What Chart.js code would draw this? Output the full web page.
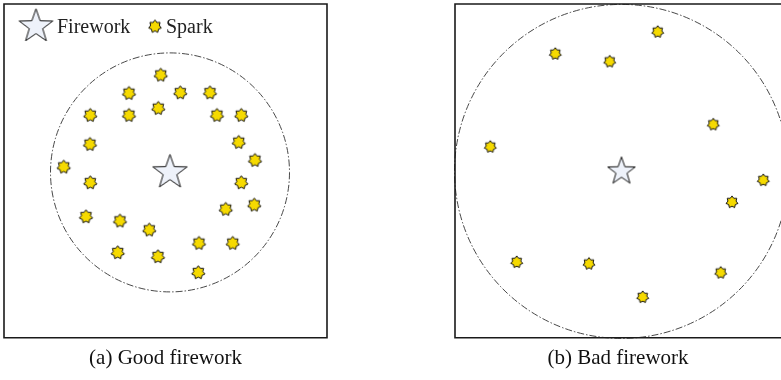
<!DOCTYPE html>
<html>
<head>
<meta charset="utf-8">
<script src="https://cdn.jsdelivr.net/npm/chart.js@4/dist/chart.umd.min.js"></script>
<style>
  html, body { margin: 0; padding: 0; background: #ffffff; overflow: hidden; }
  #wrap { position: relative; width: 781px; height: 380px; overflow: hidden; }
  canvas { position: absolute; top: 0; }
  #good { left: 0px; }
  #bad { left: 450px; }
</style>
</head>
<body>
<div id="wrap">
<canvas id="good" width="340" height="380"></canvas>
<canvas id="bad" width="331" height="380"></canvas>
</div>
<script>
// ---- data (units: firework at origin) ----
const legendLabels = ['Firework', 'Spark'];
const captions = ['(a) Good firework', '(b) Bad firework'];
const fireworkX = [0];
const fireworkY = [0];
const goodSparkX = [-0.93, -4.10, 1.03, 4.00, -7.97, -4.10, -1.17, 4.70, 7.13, -8.00, 6.87, -10.63, 8.50, -7.97, 7.13, 8.43, 5.57, -8.40, -5.00, -2.07, 2.90, 6.27, -5.23, -1.20, 2.83];
const goodSparkY = [9.75, 7.92, 7.98, 7.98, 5.72, 5.72, 6.42, 5.72, 5.72, 2.82, 3.02, 0.55, 1.22, -1.02, -1.02, -3.25, -3.68, -4.42, -4.85, -5.75, -7.08, -7.08, -8.02, -8.42, -10.02];
const badSparkX = [3.62, -6.62, -1.18, 9.18, -13.12, 14.18, 11.05, -10.48, -3.25, 9.92, 2.12];
const badSparkY = [13.97, 11.77, 11.00, 4.70, 2.47, -0.87, -3.07, -9.07, -9.23, -10.13, -12.57];
const explosionRadius = [11.95, 16.7];

// ---- marker images ----
function makeStar(n, R, ratio, fill, stroke, lw) {
  const s = Math.ceil(2 * R + 2 * lw + 3);
  const c = document.createElement('canvas');
  c.width = s; c.height = s;
  const g = c.getContext('2d');
  g.translate(s / 2, s / 2);
  g.beginPath();
  for (let i = 0; i < 2 * n; i++) {
    const r = i % 2 === 0 ? R : R * ratio;
    const a = -Math.PI / 2 + i * Math.PI / n;
    g.lineTo(r * Math.cos(a), r * Math.sin(a));
  }
  g.closePath();
  g.fillStyle = fill; g.fill();
  g.lineWidth = lw; g.strokeStyle = stroke; g.lineJoin = 'miter';
  g.stroke();
  return c;
}
const FW_FILL = '#eef2fa', FW_STROKE = '#111111';
const SP_FILL = '#f6da00', SP_STROKE = '#111111';
const fwGood = makeStar(5, 18, 0.4, FW_FILL, FW_STROKE, 1);
const fwBad = makeStar(5, 14.5, 0.4, FW_FILL, FW_STROKE, 1);
const fwLegend = makeStar(5, 17.7, 0.4, FW_FILL, FW_STROKE, 1);
const spGood = makeStar(7, 6.8, 0.68, SP_FILL, SP_STROKE, 1);
const spBad = makeStar(7, 6.1, 0.68, SP_FILL, SP_STROKE, 1);
const spLegend = makeStar(7, 6.5, 0.68, SP_FILL, SP_STROKE, 1);

function pts(xs, ys) { return xs.map((x, i) => ({ x: x, y: ys[i] })); }

// ---- plugins ----
const frameAndCircle = {
  id: 'frameAndCircle',
  beforeDatasetsDraw(chart, args, opts) {
    const { ctx, chartArea: a, scales } = chart;
    const cx = scales.x.getPixelForValue(fireworkX[0]);
    const cy = scales.y.getPixelForValue(fireworkY[0]);
    const r = Math.abs(scales.x.getPixelForValue(fireworkX[0] + opts.radius) - cx);
    ctx.save();
    ctx.beginPath();
    ctx.arc(cx, cy, r, 0, Math.PI * 2);
    ctx.setLineDash([7, 2, 1.5, 2]);
    ctx.lineWidth = 0.9;
    ctx.strokeStyle = '#333333';
    ctx.stroke();
    ctx.setLineDash([]);
    ctx.lineWidth = 1.6;
    ctx.strokeStyle = '#1a1a1a';
    ctx.beginPath();
    if (opts.openRight) {
      ctx.moveTo(a.right + 2, a.top);
      ctx.lineTo(a.left, a.top);
      ctx.lineTo(a.left, a.bottom);
      ctx.lineTo(a.right + 2, a.bottom);
    } else {
      ctx.rect(a.left, a.top, a.right - a.left, a.bottom - a.top);
    }
    ctx.stroke();
    ctx.restore();
  }
};

const insideLegend = {
  id: 'insideLegend',
  afterDraw(chart, args, opts) {
    if (!opts.show) return;
    const ctx = chart.ctx;
    const a = chart.chartArea;
    ctx.save();
    ctx.font = '20px "Liberation Serif", "Times New Roman", serif';
    ctx.fillStyle = '#222222';
    ctx.textBaseline = 'alphabetic';
    ctx.textAlign = 'left';
    ctx.drawImage(fwLegend, a.left + 32 - fwLegend.width / 2, a.top + 22.5 - fwLegend.height / 2);
    ctx.fillText(legendLabels[0], a.left + 53, a.top + 29);
    ctx.drawImage(spLegend, a.left + 151 - spLegend.width / 2, a.top + 22.5 - spLegend.height / 2);
    ctx.fillText(legendLabels[1], a.left + 162, a.top + 29);
    ctx.restore();
  }
};

function makeChart(id, sparkX, sparkY, fwImg, spImg, radius, caption, xr, yr, pad, showLegend, openRight) {
  return new Chart(document.getElementById(id), {
    type: 'scatter',
    data: {
      datasets: [
        { label: legendLabels[1], data: pts(sparkX, sparkY), pointStyle: spImg, pointRadius: 7, pointHoverRadius: 7 },
        { label: legendLabels[0], data: pts(fireworkX, fireworkY), pointStyle: fwImg, pointRadius: 16, pointHoverRadius: 16 }
      ]
    },
    options: {
      responsive: false,
      animation: false,
      events: [],
      layout: { padding: pad, autoPadding: false },
      scales: {
        x: { type: 'linear', min: xr[0], max: xr[1], display: false },
        y: { type: 'linear', min: yr[0], max: yr[1], display: false }
      },
      plugins: {
        legend: { display: false },
        tooltip: { enabled: false },
        title: {
          display: true,
          position: 'bottom',
          text: caption,
          color: '#111111',
          font: { family: '"Liberation Serif", "Times New Roman", serif', size: 21, weight: 'normal', lineHeight: 1.2 },
          padding: { top: 8, bottom: 9 }
        },
        frameAndCircle: { radius: radius, openRight: openRight },
        insideLegend: { show: showLegend }
      }
    },
    plugins: [frameAndCircle, insideLegend]
  });
}

makeChart('good', goodSparkX, goodSparkY, fwGood, spGood, explosionRadius[0], captions[0],
  [-16.6, 15.7], [-16.55, 16.85], { left: 4, top: 4, right: 13, bottom: 0 }, true, false);
makeChart('bad', badSparkX, badSparkY, fwBad, spBad, explosionRadius[1], captions[1],
  [-16.65, 15.95], [-16.65, 16.75], { left: 5, top: 4, right: 0, bottom: 0 }, false, true);
</script>
</body>
</html>
